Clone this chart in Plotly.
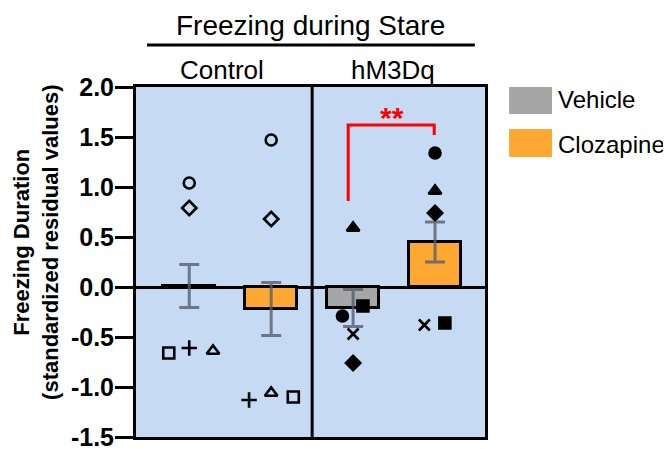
import plotly.graph_objects as go

# ---------------- data ----------------
groups = ["Control", "hM3Dq"]
treatments = ["Vehicle", "Clozapine"]
bar_means = [0.01, -0.22, -0.21, 0.45]          # Ctrl-Veh, Ctrl-Cloz, hM3Dq-Veh, hM3Dq-Cloz
bar_sems = [0.215, 0.265, 0.185, 0.20]

ctrl_veh_vals = [1.04, 0.79, -0.66, -0.61, -0.64]
ctrl_cloz_vals = [1.47, 0.68, -1.10, -1.13, -1.06]
hm3_veh_vals = [0.59, -0.19, -0.29, -0.47, -0.76]
hm3_cloz_vals = [1.34, 0.96, 0.74, -0.38, -0.36]

ctrl_symbols = ["circle-open", "diamond-open", "square-open", "cross-thin-open", "triangle-up-open"]
hm3_veh_symbols = ["triangle-up", "square", "circle", "x-thin-open", "diamond"]
hm3_cloz_symbols = ["circle", "triangle-up", "diamond", "x-thin-open", "square"]

ctrl_veh_jitter = [0, 0, -0.25, 0, 0.29]
ctrl_cloz_jitter = [0, 0, 0.27, -0.27, 0]
hm3_veh_jitter = [0, 0.12, -0.13, 0, 0]
hm3_cloz_jitter = [0, 0, 0, -0.13, 0.12]

y_ticks = [-1.5, -1.0, -0.5, 0.0, 0.5, 1.0, 1.5, 2.0]
y_tick_labels = ["-1.5", "-1.0", "-0.5", "0.0", "0.5", "1.0", "1.5", "2.0"]

# ---------------- styling ----------------
GRAY = "#a6a6a6"
ORANGE = "#ffa733"
BG = "#c6daf4"
ERR = "rgba(85,95,110,0.8)"
FONT = "Liberation Sans, Arial, sans-serif"

positions = [0, 1, 2, 3]
bar_colors = [GRAY, ORANGE, GRAY, ORANGE]

fig = go.Figure()

fig.add_trace(go.Bar(
    x=positions, y=bar_means, width=0.63,
    marker=dict(color=bar_colors, line=dict(color="black", width=3)),
    error_y=dict(type="data", array=bar_sems, visible=True, color=ERR, thickness=3, width=10),
    showlegend=False, hoverinfo="skip",
))

point_sets = [
    (positions[0], ctrl_veh_vals, ctrl_veh_jitter, ctrl_symbols),
    (positions[1], ctrl_cloz_vals, ctrl_cloz_jitter, ctrl_symbols),
    (positions[2], hm3_veh_vals, hm3_veh_jitter, hm3_veh_symbols),
    (positions[3], hm3_cloz_vals, hm3_cloz_jitter, hm3_cloz_symbols),
]
for pos, vals, jit, syms in point_sets:
    fig.add_trace(go.Scatter(
        x=[pos + j for j in jit], y=vals, mode="markers",
        marker=dict(symbol=syms, size=11, color="black",
                    line=dict(color="black", width=2.6)),
        showlegend=False,
    ))

# panel divider
fig.add_shape(type="line", xref="x", yref="paper", x0=1.5, x1=1.5, y0=0, y1=1,
              line=dict(color="black", width=3), layer="above")

# significance bracket
fig.add_shape(type="path", xref="x", yref="y",
              path="M 1.94 0.86 L 1.94 1.62 L 2.99 1.62 L 2.99 1.52",
              line=dict(color="#ff0000", width=3), layer="above")
fig.add_annotation(x=2.47, y=1.70, xref="x", yref="y", text="<b>**</b>", showarrow=False,
                   xanchor="center", yanchor="middle",
                   font=dict(family=FONT, size=30, color="#ff0000"))

# header texts
fig.add_annotation(x=0.5, y=1.177, xref="paper", yref="paper", text="Freezing during Stare",
                   showarrow=False, xanchor="center", yanchor="middle",
                   font=dict(family=FONT, size=28, color="black"))
fig.add_shape(type="line", xref="paper", yref="paper", x0=0.0315, x1=0.971, y0=1.12, y1=1.12,
              line=dict(color="black", width=3))
fig.add_annotation(x=0.246, y=1.049, xref="paper", yref="paper", text=groups[0],
                   showarrow=False, xanchor="center", yanchor="middle",
                   font=dict(family=FONT, size=26, color="black"))
fig.add_annotation(x=0.736, y=1.049, xref="paper", yref="paper", text=groups[1],
                   showarrow=False, xanchor="center", yanchor="middle",
                   font=dict(family=FONT, size=26, color="black"))

# y title
fig.add_annotation(x=-0.286, y=0.555, xref="paper", yref="paper",
                   text="<b>Freezing Duration<br>(standardized residual values)</b>",
                   textangle=-90, showarrow=False, xanchor="center", yanchor="middle",
                   font=dict(family=FONT, size=22, color="black"))

# legend
legend_items = [(treatments[0], GRAY, 1.0, 0.923, 0.963), (treatments[1], ORANGE, 0.88, 0.80, 0.837)]
for name, col, ytop, ybot, ytxt in legend_items:
    fig.add_shape(type="rect", xref="paper", yref="paper", x0=1.069, x1=1.192, y0=ybot, y1=ytop,
                  fillcolor=col, line=dict(color=col, width=0))
    fig.add_annotation(x=1.203, y=ytxt, xref="paper", yref="paper", text=name,
                       xanchor="left", yanchor="middle", showarrow=False,
                       font=dict(family=FONT, size=24, color="black"))

fig.update_layout(
    width=663, height=449,
    margin=dict(l=128, r=186, t=79, b=20, autoexpand=False),
    paper_bgcolor="white", plot_bgcolor=BG,
    bargap=0, showlegend=False,
    xaxis=dict(range=[-0.65, 3.61], showticklabels=False, ticks="", showgrid=False,
               automargin=False,
               zeroline=False, showline=True, mirror=True, linecolor="black", linewidth=3),
    yaxis=dict(range=[-1.5, 2.0], tickvals=y_ticks, ticktext=y_tick_labels,
               ticks="outside", ticklen=18, tickwidth=3, tickcolor="black",
               ticklabeloverflow="allow", automargin=False, ticklabelstandoff=-4,
               tickfont=dict(family=FONT, size=25, color="black", weight="bold"),
               showgrid=False, zeroline=True, zerolinecolor="black", zerolinewidth=3,
               showline=True, mirror=True, linecolor="black", linewidth=3),
)

fig.write_html("out.html")
